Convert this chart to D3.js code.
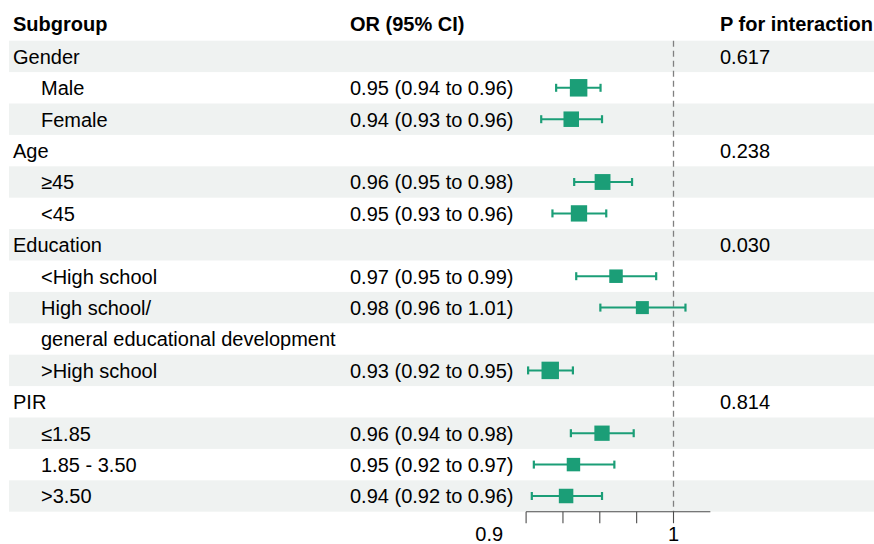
<!DOCTYPE html>
<html>
<head>
<meta charset="utf-8">
<script src="https://cdn.jsdelivr.net/npm/d3@7"></script>
<style>
  html, body { margin: 0; padding: 0; background: #fff; }
  svg { display: block; font-family: "Liberation Sans", Arial, sans-serif; }
</style>
</head>
<body>
<svg id="chart" width="874" height="544"></svg>
<script>
// ---- data ----
const subgroups = ["Gender", "Male", "Female", "Age", "\u226545", "<45", "Education",
  "<High school", "High school/", "general educational development", ">High school",
  "PIR", "\u22641.85", "1.85 - 3.50", ">3.50"];
const isGroup = [true, false, false, true, false, false, true, false, false, false, false, true, false, false, false];
const orText = ["", "0.95 (0.94 to 0.96)", "0.94 (0.93 to 0.96)", "", "0.96 (0.95 to 0.98)",
  "0.95 (0.93 to 0.96)", "", "0.97 (0.95 to 0.99)", "0.98 (0.96 to 1.01)", "",
  "0.93 (0.92 to 0.95)", "", "0.96 (0.94 to 0.98)", "0.95 (0.92 to 0.97)", "0.94 (0.92 to 0.96)"];
const pInteraction = ["0.617", "", "", "0.238", "", "", "0.030", "", "", "", "", "0.814", "", "", ""];
// estimates (null where no estimate)
const est   = [null, 0.9485, 0.9445, null, 0.9615, 0.9487, null, 0.9688, 0.9831, null, 0.9331, null, 0.9612, 0.9457, 0.9417];
const lower = [null, 0.9363, 0.9282, null, 0.9461, 0.9343, null, 0.9472, 0.9603, null, 0.9211, null, 0.9443, 0.9242, 0.9231];
const upper = [null, 0.9604, 0.9612, null, 0.9775, 0.9635, null, 0.9906, 1.0065, null, 0.9454, null, 0.9784, 0.9679, 0.9612];
const headers = ["Subgroup", "OR (95% CI)", "P for interaction"];
const axisTicks = [0.92, 0.94, 0.96, 0.98, 1.0];
const axisLabels = [0.9, 1];
const axisDomain = [0.92, 1.02];
const refValue = 1;

// ---- layout ----
const svg = d3.select("#chart");
const fontSize = 20;
const rowTop = 40.7, rowH = 31.4;
const nRows = subgroups.length;
const green = "#1b9e77";
const band = "#eff2f1";

const x = d3.scaleLinear().domain([0.9, 1.0]).range([489.25, 673.5]);
const y = d3.scaleBand().domain(d3.range(nRows)).range([rowTop, rowTop + rowH * nRows]).paddingInner(0).paddingOuter(0);
const boxSize = d3.scaleSqrt().domain([0.0462, 0.0241]).range([13, 17.5]);

// row bands
svg.append("g").selectAll("rect").data(d3.range(nRows).filter(i => i % 2 === 0)).join("rect")
  .attr("x", 9).attr("y", i => y(i)).attr("width", 865).attr("height", y.bandwidth())
  .attr("fill", band);

// headers
const headerX = [13, 350, 720];
svg.append("g").selectAll("text").data(headers).join("text")
  .attr("x", (d, i) => headerX[i]).attr("y", 31)
  .attr("font-size", fontSize).attr("font-weight", "bold").attr("fill", "#000")
  .text(d => d);

const baseOff = y.bandwidth() / 2 + 7.3;
// subgroup text
svg.append("g").selectAll("text").data(subgroups).join("text")
  .attr("x", (d, i) => isGroup[i] ? 13 : 41)
  .attr("y", (d, i) => y(i) + baseOff)
  .attr("font-size", fontSize).attr("fill", "#000")
  .text(d => d);
// OR text
svg.append("g").selectAll("text").data(orText).join("text")
  .attr("x", 350).attr("y", (d, i) => y(i) + baseOff)
  .attr("font-size", fontSize).attr("fill", "#000")
  .text(d => d);
// P text
svg.append("g").selectAll("text").data(pInteraction).join("text")
  .attr("x", 720).attr("y", (d, i) => y(i) + baseOff)
  .attr("font-size", fontSize).attr("fill", "#000")
  .text(d => d);

// reference line
const axisY = rowTop + rowH * nRows;
svg.append("line")
  .attr("x1", x(refValue)).attr("x2", x(refValue))
  .attr("y1", rowTop).attr("y2", axisY)
  .attr("stroke", "#808080").attr("stroke-width", 1.3).attr("stroke-dasharray", "6,4");

// CIs and boxes
const pts = d3.range(nRows).filter(i => est[i] !== null);
const g = svg.append("g");
g.selectAll("line.ci").data(pts).join("line").attr("class", "ci")
  .attr("x1", i => x(lower[i])).attr("x2", i => x(upper[i]))
  .attr("y1", i => y(i) + y.bandwidth() / 2).attr("y2", i => y(i) + y.bandwidth() / 2)
  .attr("stroke", green).attr("stroke-width", 2);
g.selectAll("line.capl").data(pts).join("line").attr("class", "capl")
  .attr("x1", i => x(lower[i])).attr("x2", i => x(lower[i]))
  .attr("y1", i => y(i) + y.bandwidth() / 2 - 4).attr("y2", i => y(i) + y.bandwidth() / 2 + 4)
  .attr("stroke", green).attr("stroke-width", 2.2);
g.selectAll("line.capu").data(pts).join("line").attr("class", "capu")
  .attr("x1", i => x(upper[i])).attr("x2", i => x(upper[i]))
  .attr("y1", i => y(i) + y.bandwidth() / 2 - 4).attr("y2", i => y(i) + y.bandwidth() / 2 + 4)
  .attr("stroke", green).attr("stroke-width", 2.2);
g.selectAll("rect").data(pts).join("rect")
  .each(function(i) {
    const s = boxSize(upper[i] - lower[i]);
    d3.select(this)
      .attr("x", x(est[i]) - s / 2).attr("y", y(i) + y.bandwidth() / 2 - s / 2)
      .attr("width", s).attr("height", s);
  })
  .attr("fill", green);

// axis
const ax = svg.append("g");
ax.append("line")
  .attr("x1", x(axisDomain[0])).attr("x2", x(axisDomain[1]))
  .attr("y1", axisY).attr("y2", axisY)
  .attr("stroke", "#4d4d4d").attr("stroke-width", 1.1);
ax.selectAll("line.tick").data(axisTicks).join("line").attr("class", "tick")
  .attr("x1", d => x(d)).attr("x2", d => x(d))
  .attr("y1", axisY).attr("y2", axisY + 11.5)
  .attr("stroke", "#4d4d4d").attr("stroke-width", 1.1);
ax.selectAll("text").data(axisLabels).join("text")
  .attr("x", d => x(d)).attr("y", 541)
  .attr("text-anchor", "middle")
  .attr("font-size", fontSize).attr("fill", "#000")
  .text(d => d3.format("")(d));
</script>
</body>
</html>
